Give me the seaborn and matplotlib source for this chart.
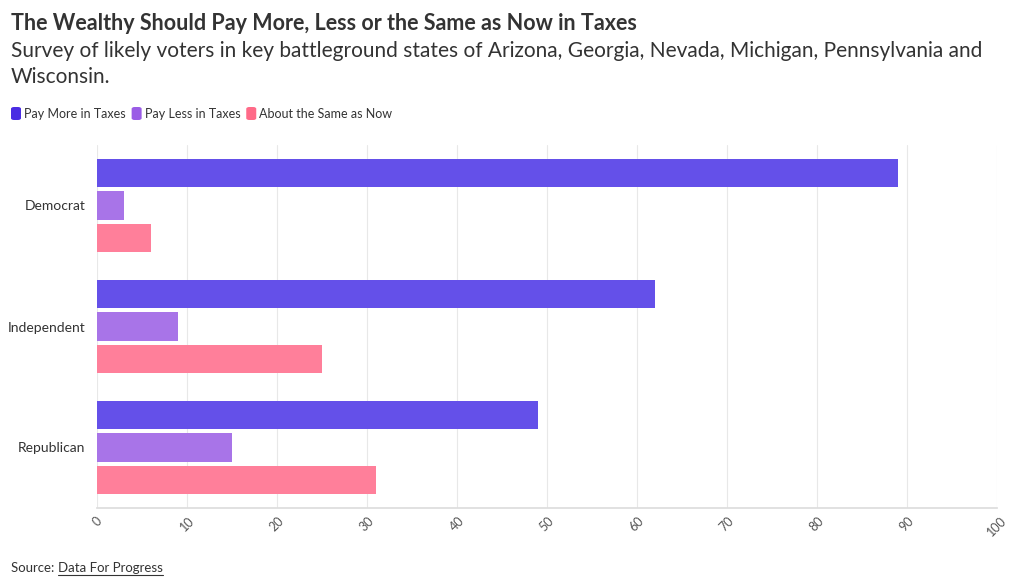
import matplotlib
matplotlib.use("Agg")
import matplotlib.pyplot as plt
import seaborn as sns
import pandas as pd
from matplotlib.patches import FancyBboxPatch

parties = ["Democrat", "Independent", "Republican"]
series = ["Pay More in Taxes", "Pay Less in Taxes", "About the Same as Now"]
pay_more = [89, 62, 49]
pay_less = [3, 9, 15]
same = [6, 25, 31]
colors = ["#6450E9", "#A874E8", "#FF7F9A"]
legend_colors = ["#4A2DE3", "#9A5CE6", "#FF6A88"]
xticks = [0, 10, 20, 30, 40, 50, 60, 70, 80, 90, 100]

rows = []
for s, vals in zip(series, [pay_more, pay_less, same]):
    for p, v in zip(parties, vals):
        rows.append({"party": p, "series": s, "value": v})
df = pd.DataFrame(rows)

sns.set_theme(style="white")
plt.rcParams["font.family"] = ["Lato", "DejaVu Sans"]

fig = plt.figure(figsize=(10.2, 5.88), dpi=100)
ax = fig.add_axes([97/1020, 1 - 508/588, 900/1020, (508-145)/588])

sns.barplot(data=df, y="party", x="value", hue="series", order=parties,
            hue_order=series, palette=colors, orient="h", width=0.8, gap=0.12,
            saturation=1, ax=ax, legend=False, linewidth=0)

ax.set_xlim(0, 100)
ax.set_xticks(xticks)
ax.set_xticklabels([str(t) for t in xticks], rotation=45, fontsize=9, color="#555555")
ax.tick_params(axis="y", labelsize=10, colors="#333333", length=5, width=0.8)
for t in ax.get_yticklabels():
    t.set_color("#333333")
ax.tick_params(axis="y", color="#cccccc")
ax.tick_params(axis="x", length=0, pad=5)
ax.set_xlabel("")
ax.set_ylabel("")
ax.grid(axis="x", color="#e8e8e8", linewidth=0.8)
ax.set_axisbelow(True)
for side in ["top", "right", "left"]:
    ax.spines[side].set_visible(False)
ax.spines["bottom"].set_color("#dddddd")

fig.text(11/1020, 1 - 24/588, "The Wealthy Should Pay More, Less or the Same as Now in Taxes",
         fontsize=15.5, fontweight="bold", color="#333333", va="center")
fig.text(11/1020, 1 - 51/588, "Survey of likely voters in key battleground states of Arizona, Georgia, Nevada, Michigan, Pennsylvania and",
         fontsize=15, color="#333333", va="center")
fig.text(11/1020, 1 - 77/588, "Wisconsin.", fontsize=15, color="#333333", va="center")

# legend
x = 11
for s, c in zip(series, legend_colors):
    patch = FancyBboxPatch((x/1020, 1 - 120/588), 10/1020, 13/588,
                           boxstyle="round,pad=0,rounding_size=0.003",
                           transform=fig.transFigure, facecolor=c, edgecolor="none")
    fig.patches.append(patch)
    t = fig.text((x + 13)/1020, 1 - 114/588, s, fontsize=9, color="#333333", va="center")
    fig.canvas.draw()
    bb = t.get_window_extent()
    x = bb.x1 + 6

src = fig.text(11/1020, 1 - 568/588, "Source: ", fontsize=9.5, color="#333333", va="center")
fig.canvas.draw()
bb = src.get_window_extent()
fig.text(bb.x1/1020, 1 - 568/588, "Data For Progress", fontsize=9.5, color="#333333",
         va="center")
fig.canvas.draw()
t2 = fig.texts[-1]
bb2 = t2.get_window_extent()
fig.add_artist(plt.Line2D([bb2.x0/1020, bb2.x1/1020], [1 - 575/588, 1 - 575/588],
                          transform=fig.transFigure, color="#333333", linewidth=0.8))

fig.savefig("out.png", dpi=100)
